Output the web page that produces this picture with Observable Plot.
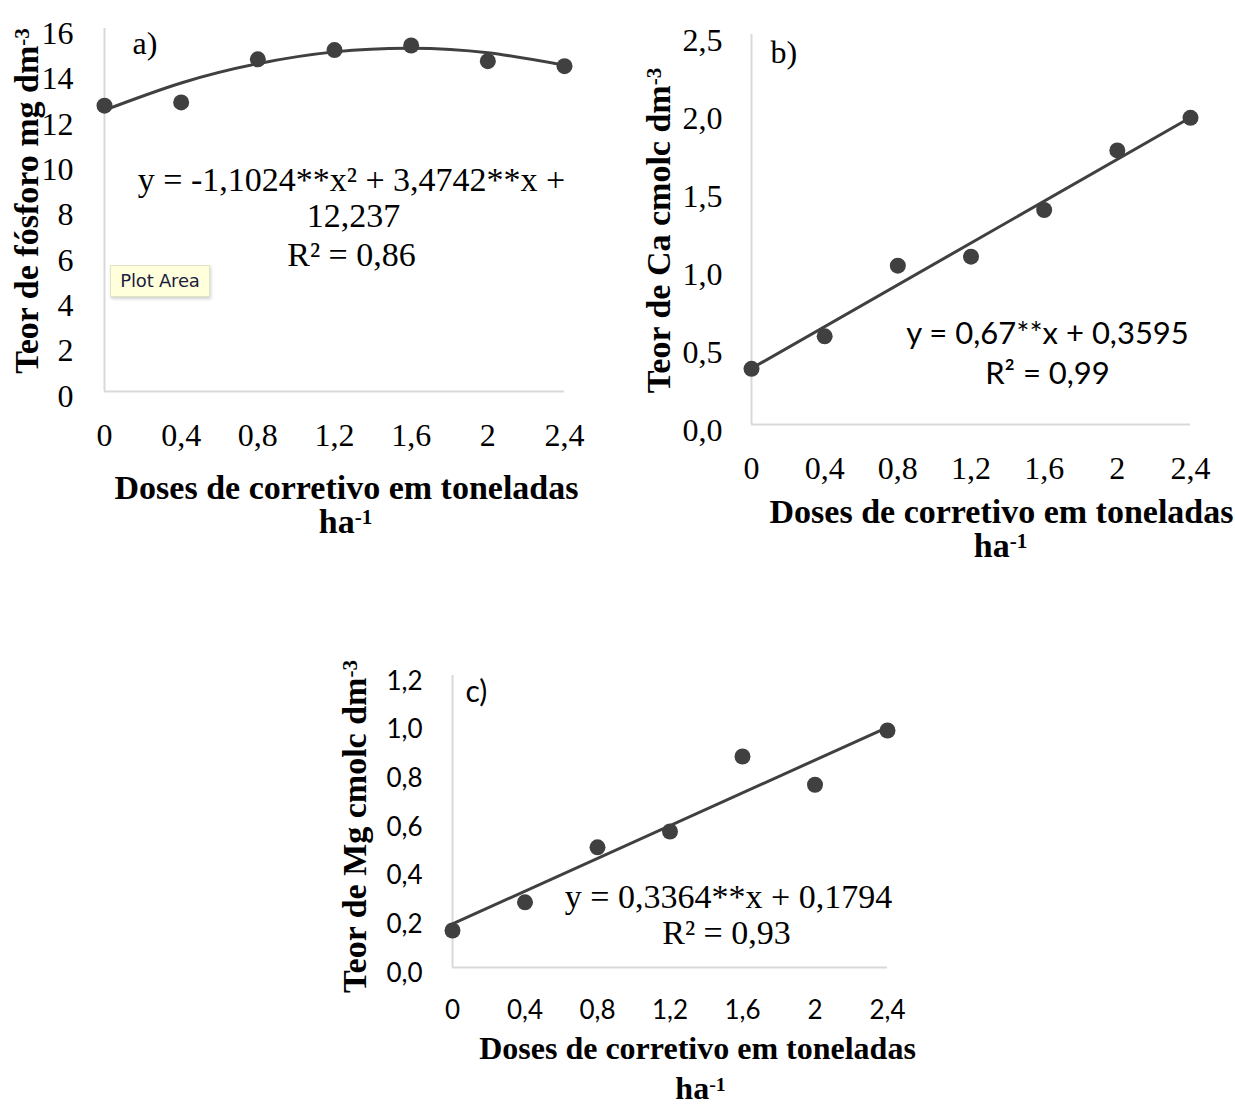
<!DOCTYPE html>
<html>
<head>
<meta charset="utf-8">
<script src="https://cdn.jsdelivr.net/npm/d3@7"></script>
<script src="https://cdn.jsdelivr.net/npm/@observablehq/plot@0.6"></script>
<style>
  html, body { margin: 0; padding: 0; background: #fff; }
  #root { position: relative; width: 1235px; height: 1107px; overflow: hidden; background: #fff; }
  #root svg { position: absolute; overflow: visible; }
  .tip {
    position: absolute; left: 110px; top: 265px; width: 100px; height: 32px;
    box-sizing: border-box; background: #ffffdc; border: 1px solid #e2e2c4;
    box-shadow: 1px 2px 3px rgba(0,0,0,0.18);
    font-family: "DejaVu Sans", sans-serif; font-size: 18px; color: #1c1c40;
    line-height: 30px; text-align: center; letter-spacing: -0.2px;
  }
</style>
</head>
<body>
<div id="root"></div>
<script>
// ---------- data ----------
const doses = [0, 0.4, 0.8, 1.2, 1.6, 2, 2.4];
const xTicks = [0, 0.4, 0.8, 1.2, 1.6, 2, 2.4];

const fosforo = [12.6, 12.74, 14.64, 15.05, 15.25, 14.56, 14.34];
const fosforoTrend = [12.4, 13.6, 14.45, 14.97, 15.13, 14.93, 14.38];
const yTicksA = [0, 2, 4, 6, 8, 10, 12, 14, 16];

const calcio = [0.357, 0.565, 1.018, 1.076, 1.375, 1.757, 1.966];
const trendX = [0, 2.4];
const calcioTrend = [0.3595, 1.9675];
const yTicksB = [0, 0.5, 1, 1.5, 2, 2.5];

const magnesio = [0.152, 0.268, 0.494, 0.559, 0.867, 0.751, 0.974];
const magnesioTrend = [0.1794, 0.9868];
const yTicksC = [0, 0.2, 0.4, 0.6, 0.8, 1, 1.2];

const xTitle1 = "Doses de corretivo em toneladas";
const xTitle2 = "ha^-1";
const eqA = ["y = -1,1024**x² + 3,4742**x +", "12,237", "R² = 0,86"];
const eqB = ["y = 0,67**x + 0,3595", "R² = 0,99"];
const eqC = ["y = 0,3364**x + 0,1794", "R² = 0,93"];

// ---------- helpers ----------
const SERIF = "Liberation Serif, Times New Roman, serif";
const SANS = "Lato, Liberation Sans, sans-serif";
const INK = "#404040";
const AXIS = "#d9d9d9";
const fmtX = d => String(d).replace(".", ",");
const fmt1 = d => d.toFixed(1).replace(".", ",");

const T = (text, opt) => Plot.text([text], {text: d => d, fill: "#000", lineAnchor: "middle", ...opt});

function supify(svg) {
  d3.select(svg).selectAll("text").each(function () {
    const t = this.textContent;
    const i = t.indexOf("^");
    if (i < 0 || this.querySelector("tspan")) return;
    const sel = d3.select(this);
    sel.text(null);
    sel.append("tspan").text(t.slice(0, i));
    sel.append("tspan").attr("font-size", "62%").attr("baseline-shift", "42%").text(t.slice(i + 1));
  });
}

function panel(o) {
  const pts = doses.map((x, i) => ({x, y: o.values[i]}));
  const trend = o.trendX.map((x, i) => ({x, y: o.trend[i]}));
  const ts = o.titleSize || 34;
  const svg = Plot.plot({
    width: o.width, height: o.height,
    marginLeft: o.ml, marginRight: o.mr, marginTop: o.mt, marginBottom: o.mb,
    x: {domain: [0, 2.4]},
    y: {domain: o.yDomain},
    style: {fontFamily: o.tickFont, fontSize: o.tickSize + "px", color: "#000", background: "transparent", overflow: "visible"},
    marks: [
      Plot.ruleX([0], {y1: o.yDomain[0], y2: o.yDomain[1], stroke: AXIS, strokeWidth: 2}),
      Plot.ruleY([0], {x1: 0, x2: 2.4, stroke: AXIS, strokeWidth: 2}),
      Plot.axisY(o.yTicks, {tickSize: 0, tickPadding: o.yPad, dy: o.yDy, tickFormat: o.yFmt, label: null,
        fill: "#000", fontFamily: o.tickFont, fontSize: o.tickSize}),
      Plot.axisX(xTicks, {tickSize: 0, tickPadding: o.xPad, tickFormat: fmtX, label: null,
        fill: "#000", fontFamily: o.tickFont, fontSize: o.tickSize}),
      Plot.dot(pts, {x: "x", y: "y", r: 8, fill: INK, stroke: "none"}),
      Plot.line(trend, {x: "x", y: "y", stroke: INK, strokeWidth: 3, curve: o.curve || "linear"}),
      // panel letter
      T(o.letter, {frameAnchor: "top-left", textAnchor: "start", dx: o.letterDx, dy: o.letterDy,
        fontFamily: o.letterFont, fontSize: o.letterSize}),
      // y title
      T(o.yTitle, {frameAnchor: "left", rotate: -90, textAnchor: "middle", dx: o.yTitleDx, dy: o.yTitleDy,
        fontFamily: SERIF, fontWeight: "bold", fontSize: 34}),
      // x title
      T(xTitle1, {frameAnchor: "bottom", dx: o.xt1[0], dy: o.xt1[1], fontFamily: SERIF, fontWeight: "bold", fontSize: ts}),
      T(xTitle2, {frameAnchor: "bottom", dx: o.xt2[0], dy: o.xt2[1], fontFamily: SERIF, fontWeight: "bold", fontSize: ts}),
      // equation
      ...o.eq.map((line, i) => T(line, {frameAnchor: "top", dx: o.eqPos[i][0], dy: o.eqPos[i][1],
        fontFamily: o.eqFont, fontSize: o.eqSize}))
    ]
  });
  svg.style.left = o.left + "px";
  svg.style.top = o.top + "px";
  supify(svg);
  return svg;
}

const root = document.getElementById("root");

// a) fósforo
root.appendChild(panel({
  left: 0, top: 0, width: 610, height: 560, ml: 104, mr: 46, mt: 28, mb: 169,
  yDomain: [0, 16], yTicks: yTicksA, yFmt: d => String(d), yPad: 31, yDy: 5, xPad: 32,
  tickFont: SERIF, tickSize: 32,
  values: fosforo, trendX: doses, trend: fosforoTrend, curve: "natural",
  letter: "a)", letterFont: SERIF, letterSize: 32, letterDx: 28, letterDy: 15,
  yTitle: "Teor de fósforo mg dm^-3", yTitleDx: -77, yTitleDy: -9,
  xt1: [12, 97], xt2: [11, 131],
  eq: eqA, eqFont: SERIF, eqSize: 34, eqPos: [[17, 152], [19, 188], [17, 227]]
}));

// b) cálcio
root.appendChild(panel({
  left: 620, top: 0, width: 615, height: 580, ml: 131, mr: 45, mt: 34, mb: 156,
  yDomain: [0, 2.5], yTicks: yTicksB, yFmt: fmt1, yPad: 29, yDy: 6, xPad: 32,
  tickFont: SERIF, tickSize: 32,
  values: calcio, trendX: trendX, trend: calcioTrend,
  letter: "b)", letterFont: SERIF, letterSize: 32, letterDx: 19, letterDy: 18,
  yTitle: "Teor de Ca cmolc dm^-3", yTitleDx: -92, yTitleDy: 1,
  xt1: [30.5, 88], xt2: [29.5, 122],
  eq: eqB, eqFont: SANS, eqSize: 31, eqPos: [[76.5, 300], [76.5, 339.5]]
}));

// c) magnésio
root.appendChild(panel({
  left: 330, top: 650, width: 600, height: 457, ml: 122, mr: 43, mt: 25, mb: 140,
  yDomain: [0, 1.2], yTicks: yTicksC, yFmt: fmt1, yPad: 30, yDy: 6, xPad: 33,
  tickFont: SANS, tickSize: 26,
  values: magnesio, trendX: trendX, trend: magnesioTrend,
  letter: "c)", letterFont: SANS, letterSize: 30, letterDx: 13, letterDy: 17,
  yTitle: "Teor de Mg cmolc dm^-3", yTitleDx: -97, yTitleDy: 5,
  titleSize: 32, xt1: [27.5, 81], xt2: [30.5, 121],
  eq: eqC, eqFont: SERIF, eqSize: 34, eqPos: [[58.5, 222], [56.5, 258]]
}));

// Excel tooltip left over in the source image
const tip = document.createElement("div");
tip.className = "tip";
tip.textContent = "Plot Area";
root.appendChild(tip);
</script>
</body>
</html>
